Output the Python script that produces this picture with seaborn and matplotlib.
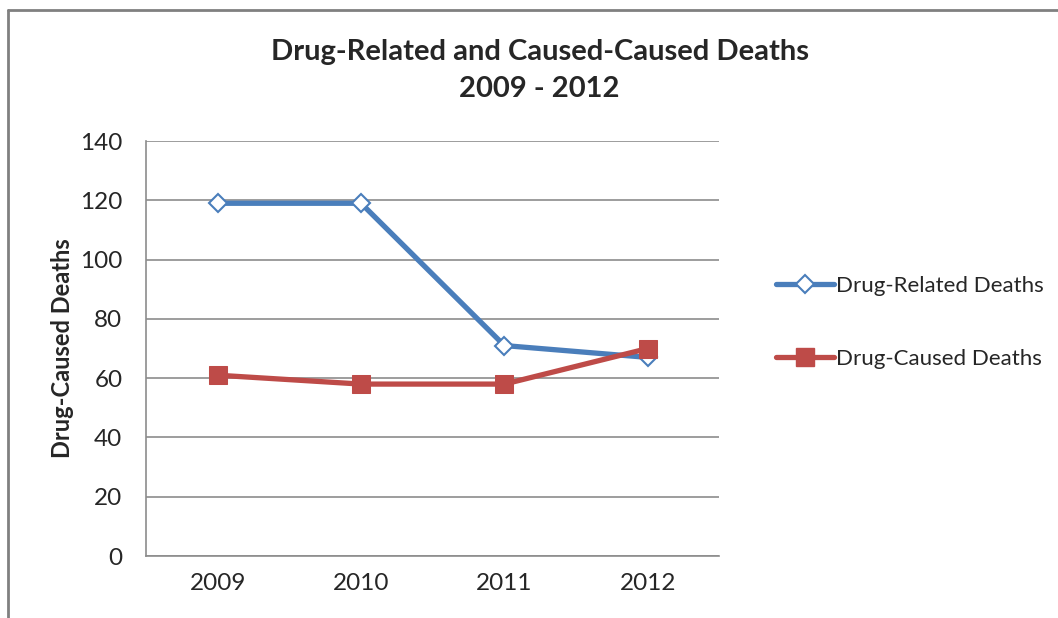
import pandas as pd
import matplotlib
matplotlib.use("Agg")
import matplotlib.pyplot as plt
import seaborn as sns
from matplotlib.lines import Line2D

years = ["2009", "2010", "2011", "2012"]
related = [119, 119, 71, 67]
caused = [61, 58, 58, 70]
series_names = ["Drug-Related Deaths", "Drug-Caused Deaths"]

df = pd.DataFrame({
    "year": years * 2,
    "deaths": related + caused,
    "series": [series_names[0]] * 4 + [series_names[1]] * 4,
})
df["pos"] = df["year"].map({y: i for i, y in enumerate(years)})

sns.set_style("white")
plt.rcParams["font.family"] = ["Lato", "DejaVu Sans"]

blue = "#4A7EBB"
red = "#BE4B48"

fig = plt.figure(figsize=(10.58, 6.18), dpi=100)
ax = fig.add_axes([0.138, 0.1003, 0.542, 0.6715])

# blue line, open diamonds
sns.lineplot(data=df[df["series"] == series_names[0]], x="pos", y="deaths",
             color=blue, linewidth=3.8, marker="D", markersize=9.5,
             markerfacecolor="white", markeredgecolor=blue, markeredgewidth=1.5,
             ax=ax, zorder=3)
# red line, squares
sns.lineplot(data=df[df["series"] == series_names[1]], x="pos", y="deaths",
             color=red, linewidth=3.8, marker="s", markersize=12.5,
             markeredgecolor=red, ax=ax, zorder=4)

ax.set_xlim(-0.5, 3.5)
ax.set_ylim(0, 140)
ax.set_yticks(range(0, 141, 20))
ax.set_xticks(range(len(years)))
ax.set_xticklabels(years)
ax.grid(axis="y", color="#8c8c8c", linewidth=1.2)
ax.set_axisbelow(True)
for s in ["top", "right"]:
    ax.spines[s].set_visible(False)
ax.spines["left"].set_color("#8c8c8c")
ax.spines["bottom"].set_color("#8c8c8c")
ax.spines["left"].set_linewidth(1.2)
ax.spines["bottom"].set_linewidth(1.2)
ax.tick_params(axis="both", length=0, labelsize=17.5)
ax.tick_params(axis="y", pad=17)
ax.tick_params(axis="x", pad=12)
ax.set_xlabel("")
ax.set_ylabel("Drug-Caused Deaths", fontsize=17, fontweight="bold", labelpad=4)

fig.text(0.51, 0.886, "Drug-Related and Caused-Caused Deaths\n2009 - 2012",
         ha="center", va="center", fontsize=21, fontweight="bold", linespacing=1.55)

handles = [
    Line2D([], [], color=blue, linewidth=3.8, marker="D", markersize=9.5,
           markerfacecolor="white", markeredgecolor=blue, markeredgewidth=1.5),
    Line2D([], [], color=red, linewidth=3.8, marker="s", markersize=12.5,
           markeredgecolor=red),
]
fig.legend(handles, series_names, loc="center left", bbox_to_anchor=(0.723, 0.478),
           frameon=False, fontsize=16, handlelength=2.6, handletextpad=0.12,
           labelspacing=2.4, borderpad=0)

# outer chart border (left and top edges visible)
fig.add_artist(Line2D([8 / 1058, 8 / 1058], [0, 1 - 10 / 618], color="#808080",
                      linewidth=2, transform=fig.transFigure))
fig.add_artist(Line2D([8 / 1058, 1], [1 - 10 / 618, 1 - 10 / 618], color="#808080",
                      linewidth=2, transform=fig.transFigure))

fig.savefig("out.png", dpi=100)
